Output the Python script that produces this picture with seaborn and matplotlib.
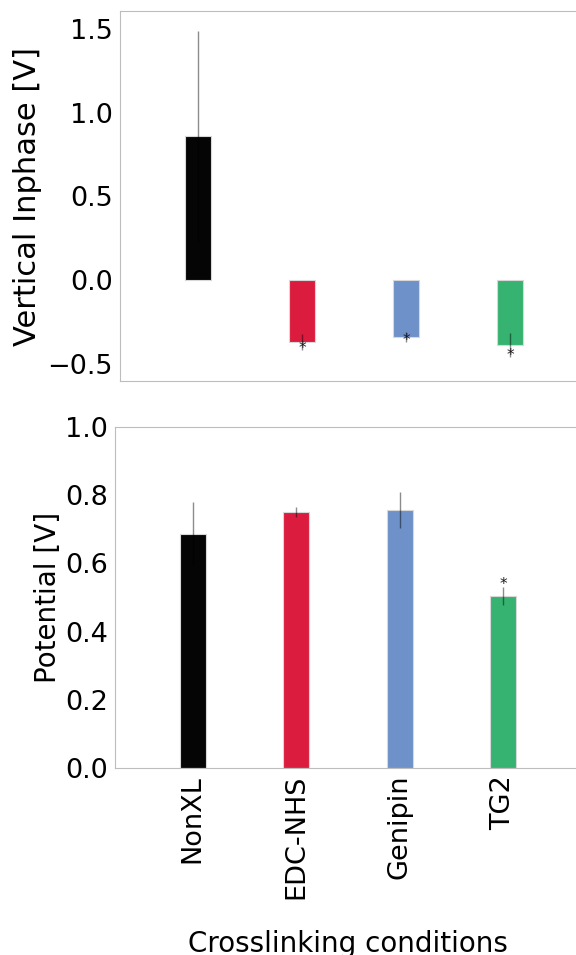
import numpy as np
import matplotlib
matplotlib.use('Agg')
import matplotlib.pyplot as plt
import seaborn as sns

# data
conditions = ['NonXL', 'EDC-NHS', 'Genipin', 'TG2']
colors = ['#050505', '#DC1C3E', '#6E91C9', '#36B370']

inphase = [0.86, -0.372, -0.342, -0.39]
inphase_err = [0.63, 0.048, 0.031, 0.073]
inphase_sig = [False, True, True, True]

potential = [0.686, 0.751, 0.757, 0.504]
potential_err = [0.094, 0.015, 0.053, 0.026]
potential_sig = [False, False, False, True]

sns.set_style('white', rc={'axes.edgecolor': '#bdbdbd', 'axes.linewidth': 1.2,
                           'text.color': 'black', 'axes.labelcolor': 'black',
                           'xtick.color': 'black', 'ytick.color': 'black'})
plt.rcParams['font.family'] = ['DejaVu Sans']

fig = plt.figure(figsize=(5.76, 9.55), dpi=100)
ax1 = fig.add_axes([0.2083, 0.601, 0.8125, 0.3874])
ax2 = fig.add_axes([0.1997, 0.1958, 0.809, 0.357])

x = np.arange(len(conditions))

# top panel: vertical inphase
sns.barplot(x=conditions, y=inphase, hue=conditions, palette=colors, saturation=1,
            width=0.25, edgecolor='#d8d8d8', linewidth=0.8, legend=False, ax=ax1)
ax1.errorbar(x, inphase, yerr=inphase_err, fmt='none', ecolor='black', alpha=0.45,
             elinewidth=1, capsize=0, zorder=5)
for i in range(len(conditions)):
    if inphase_sig[i]:
        ax1.text(x[i], inphase[i] - inphase_err[i] + 0.01, '*', ha='center', va='center',
                 fontsize=11, color='#1a1a1a', zorder=6)
ax1.set_xlim(-0.75, 3.75)
ax1.set_ylim(-0.605, 1.61)
ax1.set_yticks([-0.5, 0.0, 0.5, 1.0, 1.5])
ax1.set_xticklabels([])
ax1.set_ylabel('Vertical Inphase [V]', fontsize=22)
ax1.set_xlabel('')

# bottom panel: potential
sns.barplot(x=conditions, y=potential, hue=conditions, palette=colors, saturation=1,
            width=0.25, edgecolor='#d8d8d8', linewidth=0.8, legend=False, ax=ax2)
ax2.errorbar(x, potential, yerr=potential_err, fmt='none', ecolor='black', alpha=0.45,
             elinewidth=1, capsize=0, zorder=5)
for i in range(len(conditions)):
    if potential_sig[i]:
        ax2.text(x[i], potential[i] + potential_err[i] + 0.008, '*', ha='center', va='center',
                 fontsize=11, color='#1a1a1a', zorder=6)
ax2.set_xlim(-0.75, 3.75)
ax2.set_ylim(0, 1.0)
ax2.set_yticks([0.0, 0.2, 0.4, 0.6, 0.8, 1.0])
ax2.set_xticks(x)
ax2.set_xticklabels(conditions, rotation=90)
ax2.set_ylabel('Potential [V]', fontsize=20)
ax2.set_xlabel('Crosslinking conditions', fontsize=20)
ax2.xaxis.set_label_coords(0.5, -0.475)
ax2.yaxis.set_label_coords(-0.114, 0.5)

for ax in (ax1, ax2):
    ax.tick_params(axis='both', labelsize=19.5, direction='in', length=3,
                   width=1, color='#c8c8c8', labelcolor='black', pad=5)
    for s in ax.spines.values():
        s.set_color('#bdbdbd')

fig.savefig('out.png', dpi=100)
